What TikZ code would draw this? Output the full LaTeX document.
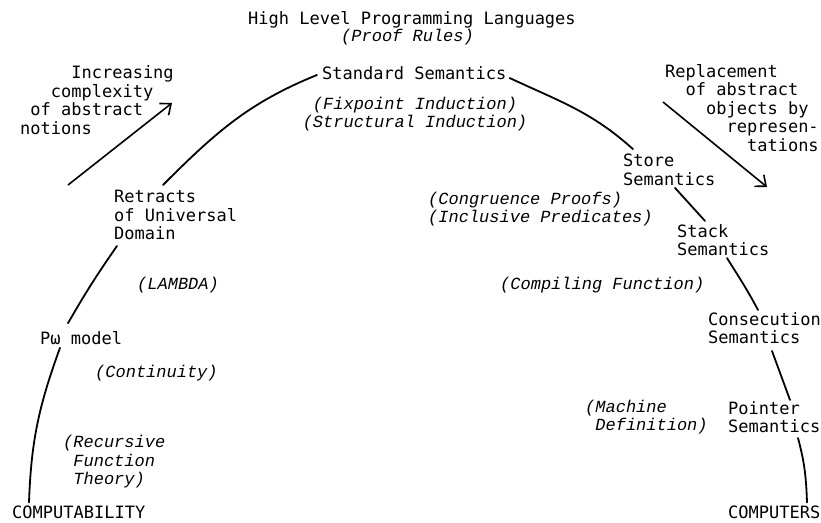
\documentclass[tikz,border=0pt]{standalone}
\usepackage{fontspec}
\setmonofont{DejaVu Sans Mono}
\newfontfamily\notefont{Liberation Mono}
\usetikzlibrary{arrows.meta,positioning,calc}

\begin{document}
\begin{tikzpicture}[x=1pt,y=-1pt]
  \tikzstyle{lbl}=[inner sep=0pt, anchor=west, align=left, font=\ttfamily\fontsize{17}{18.5}\selectfont]
  \tikzstyle{note}=[lbl, font=\notefont\itshape\fontsize{17}{18.5}\selectfont]
  \tikzstyle{link}=[line width=1.8pt, line cap=round]
  \tikzstyle{trend}=[line width=1.6pt, -{Straight Barb[length=9pt,width=15pt,line width=1.6pt]}]

  \useasboundingbox (0,0) rectangle (821,522);

  \node[lbl] (hll) at (248,20) {High Level Programming Languages};
  \node[note] (proof) at (341,37) {(Proof Rules)};
  \node[lbl] (std) at (322,73) {Standard Semantics};
  \node[note, anchor=center, align=center] (fix) at (415,114) {(Fixpoint Induction)\\(Structural Induction)};

  \node[lbl] (incr) at (20,100) {\phantom{xxxxx}Increasing\\\phantom{xxx}complexity\\\phantom{x}of abstract\\notions};
  \node[lbl] (repl) at (665,108) {Replacement\\\phantom{xx}of abstract\\\phantom{xxxx}objects by\\\phantom{xxxxxx}represen-\\\phantom{xxxxxxxx}tations};

  \node[lbl] (retr) at (114,215) {Retracts\\of Universal\\Domain};
  \node[note] (lam) at (137,285) {(LAMBDA)};
  \node[lbl] (pw) at (40,338) {Pω model};
  \node[note] (cont) at (95,373) {(Continuity)};
  \node[note] (rec) at (63,462) {(Recursive\\\phantom{x}Function\\\phantom{x}Theory)};
  \node[lbl] (comp) at (12,512) {COMPUTABILITY};

  \node[lbl] (store) at (623,170) {Store\\Semantics};
  \node[note] (cong) at (428,209) {(Congruence Proofs)\\(Inclusive Predicates)};
  \node[lbl] (stack) at (677,240) {Stack\\Semantics};
  \node[note] (compf) at (500,285) {(Compiling Function)};
  \node[lbl] (consec) at (708,328) {Consecution\\Semantics};
  \node[lbl] (ptr) at (728,417) {Pointer\\Semantics};
  \node[note] (mach) at (585,417) {(Machine\\\phantom{x}Definition)};
  \node[lbl] (cmpr) at (728,512) {COMPUTERS};

  \coordinate (riseA) at (68,185);
  \coordinate (riseB) at (172,103);
  \coordinate (fallA) at (663,102);
  \coordinate (fallB) at (767,187);
  \draw[trend] (riseA) -- (riseB);
  \draw[trend] (fallA) -- (fallB);

  \draw[link] ([xshift=49pt,yshift=5pt]retr.north west) to[out=45,in=202] ([xshift=-5pt,yshift=-2pt]std.west);
  \draw[link] ([xshift=3pt,yshift=-5pt]std.east) to[out=-25,in=138] ([xshift=10pt,yshift=5pt]store.north west);
  \draw[link] ([xshift=52pt,yshift=-2pt]store.south west) -- ([xshift=28pt,yshift=3pt]stack.north west);
  \draw[link] ([xshift=50pt,yshift=-2pt]stack.south west) to[out=-58,in=118] ([xshift=50pt,yshift=2pt]consec.north west);
  \draw[link] ([xshift=64pt,yshift=-7pt]consec.south west) -- ([xshift=62pt,yshift=1pt]ptr.north west);
  \draw[link] ([xshift=70pt,yshift=-5pt]ptr.south west) to[out=-75,in=92] ([xshift=79pt,yshift=3pt]cmpr.north west);
  \draw[link] ([xshift=3pt,yshift=-6pt]retr.south west) to[out=-125,in=60] ([xshift=28pt,yshift=8pt]pw.north west);
  \draw[link] ([xshift=20pt,yshift=-3pt]pw.south west) to[out=-110,in=88] ([xshift=17pt,yshift=3pt]comp.north west);
\end{tikzpicture}
\end{document}
